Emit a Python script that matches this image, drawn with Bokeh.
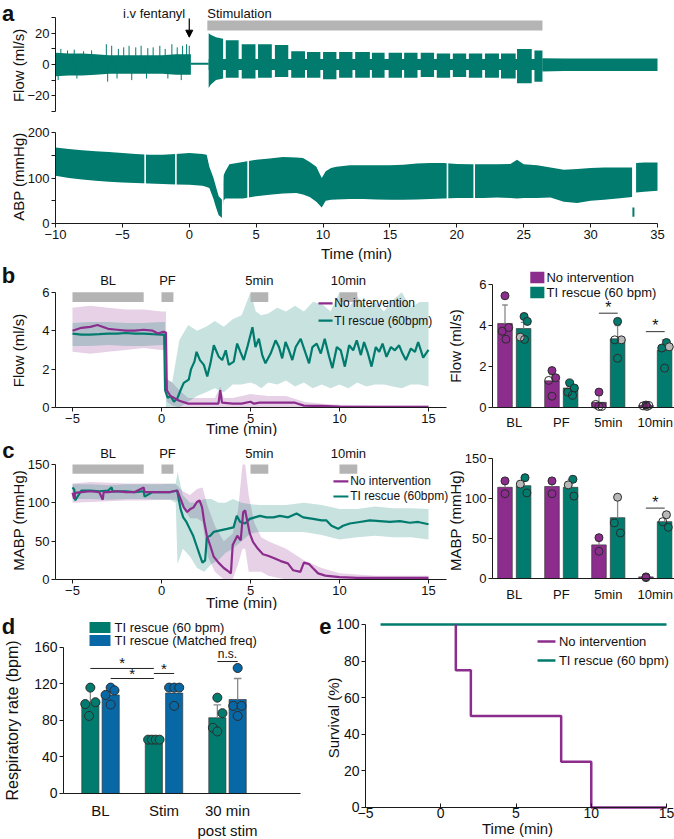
from bokeh.plotting import figure
from bokeh.models import Range1d, FixedTicker, Label, Arrow, NormalHead, ColumnDataSource
from bokeh.layouts import column, row
from bokeh.embed import file_html
from bokeh.resources import INLINE

FONT = "Liberation Sans"
TEAL = "#007B6E"
PURPLE = "#8C2D8E"
BLUE = "#0868A6"
GREYBAR = "#B4B4B4"
GREYPT = "#B8B8B8"
AXC = "#1a1a1a"
TXT = "#111111"

# ---------------- panel a : raw traces ----------------
fentanyl_t = 0.0
stim_on, stim_off = 1.35, 26.4
fl_base_t = [-10, -9, -8, -7, -6, -5, -4, -3, -2, -1, 0, 0.12]
fl_base_top = [7.5, 7, 7, 6.5, 6, 6, 6, 6, 6, 6.5, 6.5, 6.5]
fl_base_bot = [-7.5, -7, -7, -6.5, -6, -6, -6, -6, -6, -6.5, -6.5, -6.5]
fl_spike_t = [-9.6, -9.1, -8.6, -7.9, -7.3, -6.2, -5.8, -5.3, -4.9, -4.5, -4.0, -3.6, -3.1, -2.7, -2.2, -1.8, -1.3, -0.9, -0.5, -0.2, 0.0]
fl_spike_top = [10, 9, 9.5, 8.5, 9, 13, 12, 10, 11, 12, 11, 12, 10.5, 11, 12, 10, 13, 11, 12, 13, 12]
fl_dip_t = [-9.8, -8.4, -6.1, -5.4, -4.3, -3.2, -1.6, -0.6]
fl_dip_bot = [-10, -9, -11, -9, -10, -9, -9, -10]
pause_t = [0.12, 1.45]
pause_v = [0.5, 0.5]
fl_b1_t = [1.45, 1.6, 2.0, 2.53]
fl_b1_top = [20, 19, 17.5, 16.5]
fl_b1_bot = [-15, -13, -10, -9]
fl_stim_t = [1.45, 26.4]
fl_stim_top = [3.5, 3.5]
fl_stim_bot = [-3.5, -3.5]
blk_start = [2.73, 3.92, 5.14, 6.4, 7.62, 8.8, 10.0, 11.2, 12.4, 13.65, 14.9, 16.06, 17.3, 18.5, 19.7, 20.9, 22.1, 23.3, 24.5, 25.8]
blk_end = [3.69, 4.95, 6.17, 7.4, 8.65, 9.8, 11.0, 12.2, 13.5, 14.6, 15.9, 17.06, 18.3, 19.5, 20.7, 21.9, 23.15, 24.4, 25.6, 26.4]
blk_top = [15.5, 13, 13, 12.5, 8.5, 8, 8, 8, 8, 7.5, 7.5, 7.5, 7.5, 7, 7, 7, 7, 7, 10, 9]
blk_bot = [-8.5, -9, -8.5, -8, -8.5, -8.5, -9.5, -8.5, -8.5, -8.5, -8.5, -8.5, -8, -8.5, -8, -8.5, -8.5, -9, -12, -11]
fl_post_t = [26.4, 28, 30, 32, 35]
fl_post_top = [4, 3.8, 3.8, 3.8, 3.8]
fl_post_bot = [-4.5, -4.2, -4.2, -4.2, -4.2]

abp_t = [-10, -9, -8, -7, -6, -5, -4, -3, -2, -1, 0, 1.0, 1.3, 1.5, 1.8, 2.0, 2.2, 2.45, 2.55, 2.7,
         3.0, 4.0, 5.0, 6.0, 7.0, 8.0, 8.5, 9.0, 9.5, 9.9, 10.2, 10.6, 11, 12, 13, 14, 15, 16, 17, 18,
         19, 20, 21, 22, 23, 24, 24.5, 25, 26, 27, 28, 29, 30, 31, 32, 33.1]
abp_up = [167, 164, 161, 159, 157, 155, 153, 151, 151, 153, 155, 153, 151, 125, 101, 80, 60, 52, 105, 115,
          130, 135, 140, 143, 146, 145, 144, 135, 125, 100, 115, 122, 125, 128, 128, 128, 128, 129, 132, 133,
          133, 131, 130, 130, 130, 131, 140, 130, 128, 123, 118, 120, 122, 123, 123, 123]
abp_lo = [105, 100, 97, 94, 92, 90, 89, 88, 87, 86, 85, 83, 80, 78, 55, 35, 18, 12, 50, 55,
          55, 55, 60, 63, 66, 67, 64, 58, 48, 35, 50, 52, 53, 54, 54, 53, 52, 52, 53, 54,
          55, 56, 56, 56, 57, 56, 55, 56, 56, 57, 48, 45, 50, 52, 55, 58]
abp2_t = [33.4, 34, 35]
abp2_up = [133, 134, 134]
abp2_lo = [68, 70, 72]
abp_gap_t = [-3.3, -1.0, 2.5, 4.4, 19.3, 21.3]
abp_blip_t = [33.2]
abp_blip_lo = [15]
abp_blip_hi = [35]

# ---------------- panels b / c : averaged traces ----------------
epoch_names = ["BL", "PF", "5min", "10min"]
epoch_start = [-5, 0, 5, 10]
epoch_end = [-1, 0.67, 6, 11]

b_t_no = [-5, -4.5, -4, -3.6, -3, -2.5, -2, -1.5, -1, -0.5, -0.2, 0.1, 0.25, 0.3, 0.5, 0.8, 1.0, 1.5, 2, 2.5,
          3, 3.2, 3.3, 3.4, 4, 4.5, 5, 5.2, 5.5, 6, 6.5, 7, 7.5, 8, 8.5, 9, 10, 11, 12, 13, 14, 15]
b_v_no = [4.0, 4.15, 4.2, 4.3, 4.1, 4.05, 4.0, 4.0, 4.05, 4.0, 3.85, 3.95, 3.9, 0.9, 0.6, 0.45, 0.35, 0.2, 0.2, 0.2,
          0.2, 0.2, 0.9, 0.25, 0.2, 0.2, 0.3, 0.2, 0.25, 0.25, 0.25, 0.25, 0.25, 0.1, 0.08, 0.08, 0.05, 0.04, 0.04, 0.03, 0.03, 0.03]
b_t_ti = [-5, -4.5, -4, -3.5, -3, -2.5, -2, -1.5, -1, -0.5, 0, 0.15, 0.2, 0.35, 0.5, 0.7, 0.9, 1.07, 1.25, 1.53,
          1.66, 1.85, 1.97, 2.16, 2.38, 2.57, 2.75, 2.94, 3.22, 3.41, 3.61, 3.78, 4.06, 4.25, 4.43, 4.62, 4.85, 5.11, 5.28, 5.47,
          5.66, 5.84, 6.13, 6.41, 6.6, 6.78, 6.97, 7.16, 7.35, 7.54, 7.82, 8.04, 8.29, 8.48, 8.72, 8.95, 9.17, 9.42, 9.6, 9.85,
          10.07, 10.3, 10.54, 10.77, 10.97, 11.2, 11.38, 11.57, 11.8, 12.04, 12.23, 12.42, 12.64, 12.89, 13.11, 13.35, 13.54, 13.73, 14.01, 14.24,
          14.42, 14.7, 15]
b_v_ti = [3.85, 3.8, 3.8, 3.82, 3.85, 3.85, 3.88, 3.85, 3.85, 3.82, 3.8, 3.8, 0.9, 0.5, 0.6, 0.3, 0.5, 0.9, 1.28, 1.45,
          2.0, 2.39, 2.9, 2.47, 2.22, 1.62, 2.3, 3.24, 2.64, 2.47, 2.98, 2.22, 2.39, 3.33, 2.9, 2.47, 3.24, 4.18, 3.15, 3.58,
          2.73, 2.3, 2.81, 3.5, 3.15, 2.56, 3.41, 2.98, 2.47, 3.15, 3.58, 2.98, 2.3, 3.15, 3.33, 2.81, 3.58, 2.64, 2.05, 3.15,
          2.98, 2.13, 3.24, 2.98, 3.5, 2.73, 3.41, 2.9, 2.13, 3.15, 2.9, 3.33, 2.64, 3.15, 2.98, 3.24, 2.81, 2.47, 3.07, 2.9,
          3.41, 2.6, 3.0]
b_band_t_no = [-5, -4, -3, -2, -1, 0, 0.25, 0.3, 0.6, 1, 1.5, 2, 3, 3.3, 3.5, 4, 5, 6, 7, 8, 9, 10, 12, 15]
b_band_up_no = [5.2, 5.3, 5.2, 5.1, 5.1, 5.0, 5.0, 1.5, 1.3, 0.9, 0.5, 0.5, 0.5, 1.1, 0.5, 0.5, 0.7, 0.6, 0.6, 0.3, 0.2, 0.15, 0.1, 0.1]
b_band_lo_no = [2.9, 2.8, 2.9, 3.0, 3.1, 3.0, 3.0, 0.3, 0.1, 0, 0, 0, 0, 0, 0, 0, 0, 0, 0, 0, 0, 0, 0, 0]
b_band_t_ti = [-5, -4, -3, -2, -1, 0, 0.2, 0.25, 0.6, 1.0, 1.5, 2, 2.5, 3, 3.5, 4, 4.5, 5, 5.3, 5.6,
               6, 6.5, 7, 7.5, 8, 8.5, 9, 9.5, 10, 10.5, 11, 11.5, 12, 12.5, 13, 13.5, 14, 14.5, 15]
b_band_up_ti = [4.4, 4.45, 4.45, 4.4, 4.4, 4.45, 4.45, 1.5, 1.3, 3.5, 4.3, 4.0, 4.2, 4.5, 4.2, 4.6, 4.8, 6.0, 5.0, 4.8,
                4.9, 5.2, 5.0, 5.3, 5.0, 5.5, 5.4, 5.0, 6.0, 5.2, 5.8, 5.2, 5.5, 5.0, 5.6, 6.0, 5.2, 5.5, 5.5]
b_band_lo_ti = [3.2, 3.2, 3.25, 3.2, 3.2, 3.25, 3.25, 0, 0, 0, 0.3, 0.6, 0.8, 1.0, 0.8, 1.2, 1.2, 1.3, 1.2, 1.0,
                1.3, 1.2, 1.4, 1.1, 1.3, 1.0, 1.2, 1.0, 1.2, 1.0, 1.3, 1.1, 1.2, 1.2, 1.1, 1.0, 1.2, 1.2, 1.1]

c_t_no = [-5, -4.9, -4.85, -4.5, -4, -3.5, -3.3, -3.25, -3, -2.5, -2, -1.5, -1, -0.95, -0.5, 0, 0.5, 0.88, 1.07, 1.25,
          1.44, 1.63, 1.8, 1.99, 2.14, 2.28, 2.4, 2.55, 2.74, 2.93, 3.2, 3.5, 3.8, 3.9, 4.0, 4.26, 4.45, 4.59, 4.7, 4.96,
          5.14, 5.42, 5.7, 5.98, 6.3, 6.7, 7.1, 7.4, 7.8, 8.0, 8.3, 8.5, 8.8, 9.2, 9.6, 10, 11, 12, 13, 14, 15]
c_v_no = [113, 105, 113, 114, 115, 114, 104, 114, 114, 115, 114, 114, 120, 114, 114, 114, 114, 116, 105, 94,
          88, 92, 94, 101, 103, 94, 75, 57, 44, 30, 22, 15, 10, 8, 45, 57, 51, 88, 90, 60,
          49, 40, 33, 31, 28, 24, 21, 12, 10, 22, 20, 15, 8, 5, 4, 3, 2, 2, 2, 2, 2]
c_t_ti = [-5, -4.9, -4.85, -4.5, -4, -3.5, -3, -2.8, -2.75, -2.5, -2, -1.5, -1, -0.95, -0.5, 0, 0.5, 0.88, 1.07, 1.22,
          1.4, 1.59, 1.78, 1.97, 2.16, 2.3, 2.45, 2.55, 2.74, 2.93, 3.3, 3.68, 4.05, 4.23, 4.42, 4.7, 4.96, 5.24, 5.53, 5.9,
          6.28, 6.65, 7.12, 7.59, 7.96, 8.52, 8.99, 9.27, 9.55, 9.92, 10.2, 10.58, 11.14, 11.7, 12.26, 12.83, 13.39, 13.95, 14.42, 15]
c_v_ti = [120, 117, 103, 116, 116, 115, 116, 120, 115, 115, 115, 114, 115, 108, 114, 114, 114, 116, 92, 81,
          75, 66, 57, 44, 31, 22, 25, 55, 57, 62, 64, 66, 68, 83, 75, 73, 79, 81, 83, 81,
          81, 83, 81, 86, 81, 79, 77, 77, 70, 66, 70, 73, 75, 77, 76, 75, 76, 74, 75, 72]
c_band_t_no = [-5, -4, -3, -2, -1, 0, 0.8, 1.2, 1.6, 2, 2.3, 2.6, 3, 3.5, 4, 4.3, 4.55, 4.7, 4.9, 5.2, 5.6, 6, 7, 8, 9, 10, 12, 15]
c_band_up_no = [125, 127, 126, 125, 125, 125, 124, 115, 110, 118, 120, 95, 70, 50, 60, 90, 150, 150, 110, 75, 55, 50, 40, 25, 15, 8, 5, 5]
c_band_lo_no = [100, 101, 102, 103, 103, 104, 104, 95, 80, 80, 75, 30, 10, 0, 0, 20, 40, 40, 10, 10, 10, 5, 0, 0, 0, 0, 0, 0]
c_band_t_ti = [-5, -4, -3, -2, -1, 0, 0.5, 0.8, 0.9, 1.2, 1.6, 2, 2.4, 2.8, 3.2, 3.6, 4, 4.5, 5, 5.5, 6, 7, 8, 9, 10, 11, 12, 13, 14, 15]
c_band_up_ti = [124, 124, 123, 124, 124, 124, 125, 125, 140, 110, 100, 100, 105, 105, 100, 100, 105, 100, 98, 97, 97, 97, 100, 97, 92, 92, 95, 93, 93, 92]
c_band_lo_ti = [105, 105, 104, 105, 105, 104, 104, 100, 20, 40, 30, 15, 10, 20, 25, 35, 40, 50, 60, 62, 62, 62, 62, 58, 52, 55, 57, 55, 55, 52]

# ---------------- bar summaries b / c ----------------
b_bar_no = [4.1, 1.3, 0.25, 0.1]
b_bar_ti = [3.85, 0.95, 3.35, 2.8]
b_err_no = [5.0, 1.6, 0.6, 0.18]
b_err_ti = [4.15, 1.2, 4.0, 3.3]
b_pts_no = [[5.45, 3.9, 3.72, 3.33], [1.8, 1.45, 1.32, 0.55], [0.75, 0.15, 0.05, 0.05], [0.12, 0.1, 0.08, 0.05]]
b_pts_ti = [[4.44, 4.2, 3.43, 3.32], [1.2, 0.95, 0.75, 0.6], [4.2, 3.3, 3.3, 2.4], [3.17, 2.9, 2.96, 1.92]]
b_kind_no = [["f", "o", "o", "o"], ["f", "f", "o", "o"], ["f", "o", "o", "o"], ["f", "o", "o", "o"]]
b_kind_ti = [["f", "f", "g", "o"], ["f", "f", "o", "o"], ["f", "g", "o", "o"], ["f", "f", "g", "o"]]
b_sig_cat = [2, 3]
b_sig_y = [4.6, 3.7]

c_bar_no = [114, 115, 42, 2]
c_bar_ti = [116, 114, 76, 71]
c_err_no = [122, 122, 51, 3]
c_err_ti = [126, 124, 101, 80]
c_pts_no = [[122, 106], [122, 106], [51, 34], [2, 1]]
c_pts_ti = [[126, 118, 107], [124, 117, 103], [101.6, 69.5, 57], [79.7, 71, 64]]
c_kind_no = [["f", "o"], ["f", "o"], ["f", "o"], ["f", "o"]]
c_kind_ti = [["f", "g", "o"], ["f", "g", "o"], ["g", "o", "o"], ["g", "o", "o"]]
c_sig_cat = [3]
c_sig_y = [88]

# ---------------- panel d ----------------
d_cats = ["BL", "Stim", "30 min"]
d_bar_60 = [99, 59, 83]
d_bar_mf = [108, 110, 103]
d_err_60 = [116, 60, 97]
d_err_mf = [116, 117, 126]
d_pts_60 = [[116, 100, 98, 85], [59, 59, 59, 59], [105, 88, 72, 68]]
d_pts_mf = [[116, 113, 108, 97.5], [116, 116, 116, 96], [137.5, 96, 96, 85]]
d_sig_from = [(0, 0), (0, 1), (1, 0), (2, 0)]
d_sig_to = [(1, 0), (1, 0), (1, 1), (2, 1)]
d_sig_y = [137, 126, 131.5, 144.6]
d_sig_txt = ["*", "*", "*", "n.s."]

# ---------------- panel e ----------------
e_t_no = [1, 1, 2, 8, 10, 15]
e_s_no = [100, 75, 50, 25, 0, 0]
e_t_ti = [-4, 15]
e_s_ti = [100, 100]


# ================= helpers =================
def mkfig(w, h, xr, yr, xloc="below"):
    p = figure(width=w, height=h, x_range=Range1d(*xr), y_range=Range1d(*yr),
               output_backend="svg", toolbar_location=None, x_axis_location=xloc,
               min_border_left=0, min_border_right=0, min_border_top=0, min_border_bottom=0)
    p.outline_line_color = None
    p.grid.visible = False
    p.background_fill_color = "white"
    p.border_fill_color = "white"
    for ax in p.axis:
        ax.axis_line_color = AXC
        ax.axis_line_width = 1
        ax.major_tick_line_color = AXC
        ax.minor_tick_line_color = None
        ax.major_tick_out = 4
        ax.major_tick_in = 0
        ax.major_label_text_font = FONT
        ax.major_label_text_font_size = "13px"
        ax.major_label_text_color = TXT
        ax.major_label_standoff = 2
    return p


def lab(p, x, y, text, size="13px", align="center", baseline="middle", bold=False, angle=0, color=TXT):
    p.add_layout(Label(x=x, y=y, text=text, text_font=FONT, text_font_size=size,
                       text_align=align, text_baseline=baseline,
                       text_font_style="bold" if bold else "normal",
                       angle=angle, angle_units="deg", text_color=color))


def add_points(p, centers, off, pts, kinds, jit, color, size):
    xs, ys, fc, fa = [], [], [], []
    for c, vals, ks, js in zip(centers, pts, kinds, jit):
        for v, k, j in zip(vals, ks, js):
            xs.append(c + off + j)
            ys.append(v)
            if k == "f":
                fc.append(color); fa.append(1.0)
            elif k == "g":
                fc.append(GREYPT); fa.append(1.0)
            else:
                fc.append("white"); fa.append(0.0)
    src = ColumnDataSource(dict(x=xs, y=ys, fc=fc, fa=fa))
    p.scatter("x", "y", source=src, size=size, fill_color="fc", fill_alpha="fa",
              line_color="#2b2b2b", line_width=1)


def bars(p, centers, off, bw, vals, errs, color, cap):
    xs = [c + off for c in centers]
    p.vbar(x=xs, top=vals, width=bw, bottom=0, fill_color=color, line_color="#3a3a3a", line_width=0.7)
    p.segment(x0=xs, y0=vals, x1=xs, y1=errs, line_color="#8a8a8a", line_width=1.3)
    p.segment(x0=[x - cap for x in xs], y0=errs, x1=[x + cap for x in xs], y1=errs,
              line_color="#8a8a8a", line_width=1.3)


# ================= panel a =================
XA = (-14.111, 36.271)
pa1 = mkfig(674, 115, XA, (-32.69, 41.03), xloc=None)
pa1.yaxis.fixed_location = -10
pa1.yaxis.ticker = FixedTicker(ticks=[-30, -20, -10, 0, 10, 20, 30])
pa1.yaxis.major_label_overrides = {-30: "", -10: "", 10: "", 30: ""}
pa1.yaxis.bounds = (-30, 30)
pa1.varea(x=fl_base_t, y1=fl_base_bot, y2=fl_base_top, fill_color=TEAL)
pa1.segment(x0=fl_spike_t, y0=[0] * len(fl_spike_t), x1=fl_spike_t, y1=fl_spike_top, line_color=TEAL, line_width=1)
pa1.segment(x0=fl_dip_t, y0=[0] * len(fl_dip_t), x1=fl_dip_t, y1=fl_dip_bot, line_color=TEAL, line_width=1)
pa1.line(pause_t, pause_v, line_color=TEAL, line_width=2)
pa1.varea(x=fl_stim_t, y1=fl_stim_bot, y2=fl_stim_top, fill_color=TEAL)
pa1.varea(x=fl_b1_t, y1=fl_b1_bot, y2=fl_b1_top, fill_color=TEAL)
pa1.quad(left=blk_start, right=blk_end, top=blk_top, bottom=blk_bot, fill_color=TEAL, line_color=None)
pa1.varea(x=fl_post_t, y1=fl_post_bot, y2=fl_post_top, fill_color=TEAL)
pa1.quad(left=[stim_on], right=[stim_off], top=[28.2], bottom=[21.8], fill_color=GREYBAR, line_color=None)
pa1.add_layout(Arrow(end=NormalHead(size=7, fill_color="black", line_color="black"),
                     x_start=fentanyl_t, y_start=29.5, x_end=fentanyl_t, y_end=17.5,
                     line_color="black", line_width=1.2))
lab(pa1, fentanyl_t - 0.3, 32.7, "i.v fentanyl", size="13px", align="right")
lab(pa1, stim_on, 32.7, "Stimulation", size="13px", align="left")
lab(pa1, -12.77, -0.6, "Flow (ml/s)", size="15px", angle=90)
lab(pa1, -13.55, 33.0, "a", size="22px", bold=True)

pa2 = mkfig(674, 147, XA, (-85.7, 237.4))
pa2.yaxis.fixed_location = -10
pa2.xaxis.fixed_location = 0
pa2.yaxis.ticker = FixedTicker(ticks=[0, 50, 100, 150, 200])
pa2.yaxis.major_label_overrides = {50: "", 150: ""}
pa2.yaxis.bounds = (0, 200)
pa2.xaxis.ticker = FixedTicker(ticks=[-10, -5, 0, 5, 10, 15, 20, 25, 30, 35])
pa2.xaxis.bounds = (-10, 35)
pa2.varea(x=abp_t, y1=abp_lo, y2=abp_up, fill_color=TEAL)
pa2.varea(x=abp2_t, y1=abp2_lo, y2=abp2_up, fill_color=TEAL)
pa2.quad(left=[g - 0.06 for g in abp_gap_t], right=[g + 0.06 for g in abp_gap_t],
         top=[200] * len(abp_gap_t), bottom=[1] * len(abp_gap_t), fill_color="white", line_color=None)
pa2.segment(x0=abp_blip_t, y0=abp_blip_lo, x1=abp_blip_t, y1=abp_blip_hi, line_color=TEAL, line_width=2)
lab(pa2, -12.77, 103, "ABP (mmHg)", size="15px", angle=90)
lab(pa2, 12.5, -66, "Time (min)", size="15px")


# ================= panel b / c line =================
def line_panel(h, yr, ymax_axis, ticks, t_no, v_no, t_ti, v_ti,
               bt_no, bu_no, bl_no, bt_ti, bu_ti, bl_ti, epoch_y0, epoch_y1, epoch_lab_y,
               leg_x0, leg_x1, leg_y, ylab, ylab_y, time_y, letter, letter_y):
    p = mkfig(448, h, (-9.045, 16.124), yr)
    p.yaxis.fixed_location = -5.955
    p.xaxis.fixed_location = 0
    p.yaxis.ticker = FixedTicker(ticks=ticks)
    p.yaxis.bounds = (0, ymax_axis)
    p.xaxis.ticker = FixedTicker(ticks=[-5, 0, 5, 10, 15])
    p.xaxis.bounds = (-5.955, 16.0)
    p.varea(x=bt_no, y1=bl_no, y2=bu_no, fill_color=PURPLE, fill_alpha=0.22)
    p.varea(x=bt_ti, y1=bl_ti, y2=bu_ti, fill_color=TEAL, fill_alpha=0.22)
    p.line(t_ti, v_ti, line_color=TEAL, line_width=2.2)
    p.line(t_no, v_no, line_color=PURPLE, line_width=2.2)
    p.quad(left=epoch_start, right=epoch_end, top=[epoch_y1] * 4, bottom=[epoch_y0] * 4,
           fill_color=GREYBAR, line_color=None)
    for s, e, n in zip(epoch_start, epoch_end, epoch_names):
        lab(p, (s + e) / 2, epoch_lab_y, n, size="13px")
    p.segment(x0=[leg_x0] * 2, x1=[leg_x1] * 2, y0=leg_y, y1=leg_y, line_color=[PURPLE, TEAL], line_width=2.2)
    lab(p, leg_x1 + 0.1, leg_y[0], "No intervention", size="12px", align="left")
    lab(p, leg_x1 + 0.1, leg_y[1], "TI rescue (60bpm)", size="12px", align="left")
    lab(p, -8.03, ylab_y, ylab, size="15px", angle=90)
    lab(p, 4.5, time_y, "Time (min)", size="15px")
    lab(p, -8.6, letter_y, letter, size="22px", bold=True)
    return p


pb1 = line_panel(174, (-1.51, 7.552), 6, [0, 2, 4, 6], b_t_no, b_v_no, b_t_ti, b_v_ti,
                 b_band_t_no, b_band_up_no, b_band_lo_no, b_band_t_ti, b_band_up_ti, b_band_lo_ti,
                 5.5, 6.0, 6.62, 8.82, 9.61, [5.42, 4.53], "Flow (ml/s)", 2.97, -1.07, "b", 6.88)
pc1 = line_panel(174, (-40.4, 186.4), 150, [0, 50, 100, 150], c_t_no, c_v_no, c_t_ti, c_v_ti,
                 c_band_t_no, c_band_up_no, c_band_lo_no, c_band_t_ti, c_band_up_ti, c_band_lo_ti,
                 138, 150, 164.3, 9.66, 10.5, [127.8, 108.2], "MABP (mmHg)", 77, -30, "c", 168.5)


# ================= panel b / c bars =================
BOFF = 0.198
BW = 0.31


def bar_panel(h, yr, ymax_axis, ticks, v_no, v_ti, e_no, e_ti, p_no, p_ti, k_no, k_ti,
              j_no, j_ti, sig_cat, sig_y, star_dy, ylab, ylab_y, legend, leg_h):
    p = mkfig(226, h, (-1.4, 3.409), yr)
    p.yaxis.fixed_location = -0.464
    p.xaxis.fixed_location = 0
    p.yaxis.ticker = FixedTicker(ticks=ticks)
    p.yaxis.bounds = (0, ymax_axis)
    p.xaxis.ticker = FixedTicker(ticks=[0, 1, 2, 3])
    p.xaxis.bounds = (-0.464, 3.4)
    p.xaxis.major_label_overrides = {i: n for i, n in enumerate(epoch_names)}
    p.xaxis.major_tick_line_color = None
    p.xaxis.major_label_standoff = 4
    cs = list(range(len(epoch_names)))
    bars(p, cs, -BOFF, BW, v_no, e_no, PURPLE, 0.06)
    bars(p, cs, BOFF, BW, v_ti, e_ti, TEAL, 0.06)
    add_points(p, cs, -BOFF, p_no, k_no, j_no, PURPLE, 8)
    add_points(p, cs, BOFF, p_ti, k_ti, j_ti, TEAL, 8)
    p.segment(x0=[c - 0.2 for c in sig_cat], x1=[c + 0.2 for c in sig_cat], y0=sig_y, y1=sig_y,
              line_color="#333333", line_width=1)
    for c, y in zip(sig_cat, sig_y):
        lab(p, c, y + star_dy, "*", size="16px")
    lab(p, -1.25, ylab_y, ylab, size="15px", angle=90)
    if legend is not None:
        p.rect(x=[0.49, 0.49], y=legend, width=0.3, height=leg_h, fill_color=[PURPLE, TEAL], line_color=None)
        lab(p, 0.685, legend[0], "No intervention", size="13px", align="left")
        lab(p, 0.685, legend[1], "TI rescue (60 bpm)", size="13px", align="left")
    return p


b_jit_no = [[0.0, 0.08, -0.06, 0.02], [0.0, 0.08, -0.07, 0.0], [0.0, -0.07, 0.06, 0.0], [0.0, 0.06, -0.06, 0.02]]
b_jit_ti = [[0.01, 0.08, -0.07, 0.02], [-0.02, 0.08, -0.06, 0.04], [0.0, 0.08, -0.06, 0.0], [0.04, -0.06, 0.1, 0.0]]
c_jit_no = [[0.0, 0.0], [0.0, 0.0], [0.0, 0.0], [0.0, 0.0]]
c_jit_ti = [[0.03, -0.07, 0.07], [0.05, -0.05, 0.07], [0.0, -0.07, 0.06], [0.04, -0.04, 0.08]]

pb2 = bar_panel(174, (-1.415, 7.073), 6, [0, 2, 4, 6], b_bar_no, b_bar_ti, b_err_no, b_err_ti,
                b_pts_no, b_pts_ti, b_kind_no, b_kind_ti, b_jit_no, b_jit_ti, b_sig_cat, b_sig_y, 0.3,
                "Flow (ml/s)", 3.0, [6.34, 5.61], 0.56)
pc2 = bar_panel(174, (-40.0, 177.5), 150, [0, 50, 100, 150], c_bar_no, c_bar_ti, c_err_no, c_err_ti,
                c_pts_no, c_pts_ti, c_kind_no, c_kind_ti, c_jit_no, c_jit_ti, c_sig_cat, c_sig_y, 7.5,
                "MABP (mmHg)", 72.5, None, 0)

# ================= panel d =================
pd = mkfig(310, 229, (-1.575, 3.307), (-50.4, 200.5))
pd.yaxis.fixed_location = -0.583
pd.xaxis.fixed_location = 0
pd.yaxis.ticker = FixedTicker(ticks=[0, 40, 80, 120, 160])
pd.yaxis.bounds = (0, 160)
pd.yaxis.major_label_text_font_size = "14px"
pd.xaxis.ticker = FixedTicker(ticks=[0, 1, 2])
pd.xaxis.bounds = (-0.583, 3.15)
pd.xaxis.major_label_overrides = {i: n for i, n in enumerate(d_cats)}
pd.xaxis.major_tick_line_color = None
pd.xaxis.major_label_text_font_size = "15px"
pd.xaxis.major_label_standoff = 5
dcs = list(range(len(d_cats)))
DOFF = 0.16
bars(pd, dcs, -DOFF, 0.27, d_bar_60, d_err_60, TEAL, 0.06)
bars(pd, dcs, DOFF, 0.27, d_bar_mf, d_err_mf, BLUE, 0.06)
d_jit_60 = [[0.0, 0.08, -0.08, -0.02], [-0.09, -0.03, 0.03, 0.09], [0.0, 0.08, -0.07, 0.0]]
d_jit_mf = [[0.0, 0.06, -0.08, 0.0], [-0.08, 0.0, 0.08, 0.0], [0.0, -0.07, 0.06, 0.0]]
add_points(pd, dcs, -DOFF, d_pts_60, [["f"] * 4] * 3, d_jit_60, TEAL, 9)
add_points(pd, dcs, DOFF, d_pts_mf, [["f"] * 4] * 3, d_jit_mf, BLUE, 9)
sx0 = [c + (DOFF if s else -DOFF) for c, s in d_sig_from]
sx1 = [c + (DOFF if s else -DOFF) for c, s in d_sig_to]
pd.segment(x0=sx0, x1=sx1, y0=d_sig_y, y1=d_sig_y, line_color="#222222", line_width=1)
for a0, a1, y, t in zip(sx0, sx1, d_sig_y, d_sig_txt):
    if t == "*":
        lab(pd, (a0 + a1) / 2, y + 6, t, size="15px")
    else:
        lab(pd, (a0 + a1) / 2, y + 8, t, size="12px")
pd.rect(x=[-0.008, -0.008], y=[181.9, 167.7], width=0.33, height=12, fill_color=[TEAL, BLUE], line_color=None)
lab(pd, 0.22, 181.9, "TI rescue (60 bpm)", size="13px", align="left")
lab(pd, 0.22, 167.7, "TI rescue (Matched freq)", size="13px", align="left")
lab(pd, 2, -40, "post stim", size="15px")
lab(pd, -1.39, 80, "Respiratory rate (bpm)", size="16px", angle=90)
lab(pd, -1.45, 183.5, "d", size="22px", bold=True)

# ================= panel e =================
pe = mkfig(364, 229, (-8.654, 15.53), (-17.5, 107.65))
pe.yaxis.fixed_location = -5
pe.xaxis.fixed_location = 0
pe.yaxis.ticker = FixedTicker(ticks=[0, 20, 40, 60, 80, 100])
pe.yaxis.bounds = (0, 100)
pe.xaxis.ticker = FixedTicker(ticks=[-5, 0, 5, 10, 15])
pe.xaxis.bounds = (-5, 15)
pe.xaxis.major_tick_out = 0
pe.xaxis.major_tick_in = 4
pe.yaxis.major_label_text_font_size = "14px"
pe.xaxis.major_label_text_font_size = "14px"
pe.xaxis.major_label_standoff = 1
pe.line(e_t_ti, e_s_ti, line_color=TEAL, line_width=2.5)
pe.step(e_t_no, e_s_no, mode="after", line_color=PURPLE, line_width=2.5)
pe.segment(x0=[6.43, 6.43], x1=[7.62, 7.62], y0=[90.7, 80.3], y1=[90.7, 80.3],
           line_color=[PURPLE, TEAL], line_width=2.5)
lab(pe, 7.85, 90.7, "No intervention", size="13px", align="left")
lab(pe, 7.85, 80.3, "TI rescue (60 bpm)", size="13px", align="left")
lab(pe, -7.13, 49, "Survival (%)", size="15px", angle=90)
lab(pe, 5.1, -11.5, "Time (min)", size="15px")
lab(pe, -7.66, 99.0, "e", size="22px", bold=True)

layout = column(pa1, pa2, row(pb1, pb2), row(pc1, pc2), row(pd, pe))
open("out.html", "w").write(file_html(layout, INLINE, title="figure"))
